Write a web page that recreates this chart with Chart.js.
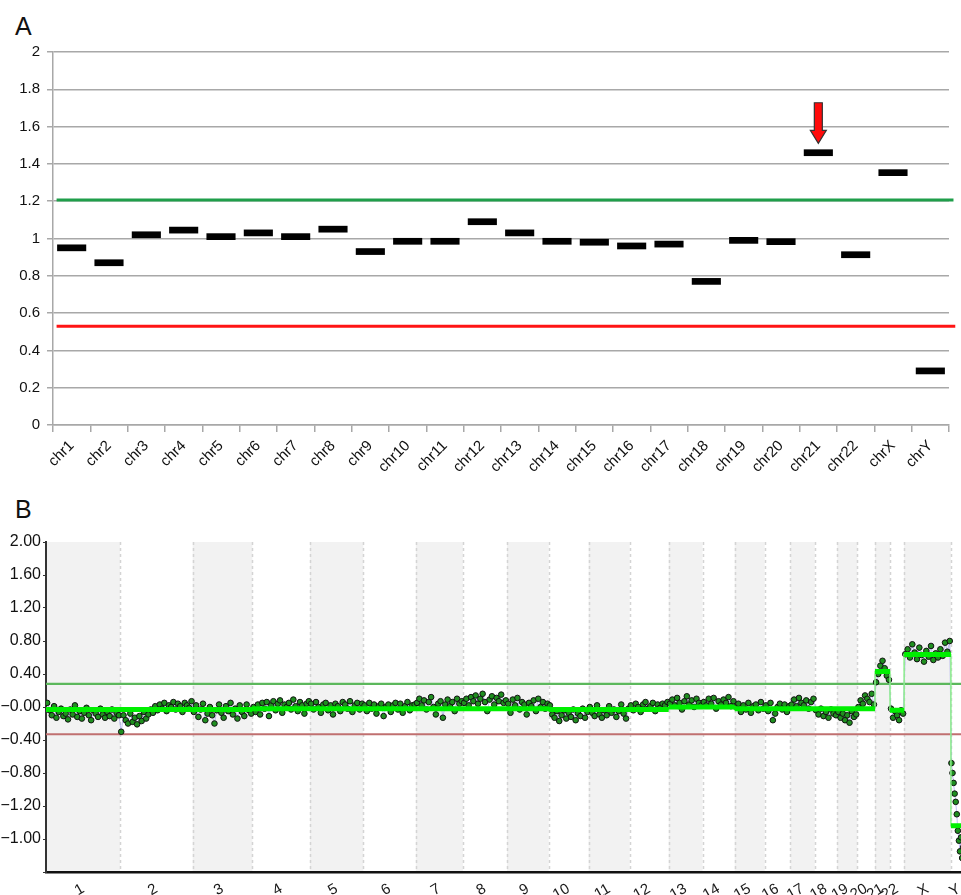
<!DOCTYPE html>
<html>
<head>
<meta charset="utf-8">
<script src="https://cdn.jsdelivr.net/npm/chart.js@4.4.0/dist/chart.umd.min.js"></script>
<style>
  html, body { margin: 0; padding: 0; overflow: hidden; background: #fff; }
  body { position: relative; width: 961px; height: 895px; font-family: "Liberation Sans", Arial, sans-serif; }
  .tag { position: absolute; left: 15px; font-size: 25px; line-height: 1; color: #111; }
  #wrapA { position: absolute; left: 0; top: 0; width: 961px; height: 480px; }
  #wrapB { position: absolute; left: 0; top: 490px; width: 983px; height: 405px; }
</style>
</head>
<body>
<div class="tag" style="top:14px">A</div>
<div class="tag" style="top:497px">B</div>
<div id="wrapA"><canvas id="chartA"></canvas></div>
<div id="wrapB"><canvas id="chartB"></canvas></div>

<script>
// ---- panel A: chromosome ratios ----
const chrNamesA = ['chr1','chr2','chr3','chr4','chr5','chr6','chr7','chr8','chr9','chr10','chr11','chr12',
  'chr13','chr14','chr15','chr16','chr17','chr18','chr19','chr20','chr21','chr22','chrX','chrY'];
const ratiosA = [0.95, 0.87, 1.02, 1.045, 1.01, 1.03, 1.01, 1.05, 0.93, 0.985, 0.985, 1.09,
  1.03, 0.985, 0.98, 0.96, 0.97, 0.77, 0.99, 0.983, 1.46, 0.913, 1.353, 0.29];
const upperCutA = 1.206;
const lowerCutA = 0.53;
const arrowChrA = 'chr21';
const arrowTopA = 1.728;
const arrowTipA = 1.51;

// ---- panel B: genome-wide log ratio ----
const chrLabelsB = ['1','2','3','4','5','6','7','8','9','10','11','12','13','14','15','16','17','18','19','20','21','22','X','Y'];
const chrSizesB = [247, 242, 199, 192, 178, 175, 157, 147, 139, 133, 137, 130, 113, 107, 100, 86, 81, 75, 67, 59, 50, 47, 156, 57];
const yTickLabelsB = ['', '\u22121.00', '\u22121.20', '\u22120.80', '\u22120.40', '\u22120.00', '0.40', '0.80', '1.20', '1.60', '2.00'];
const upperCutB = 0.28;
const lowerCutB = -0.33;
const segmentB = [-0.03, -0.03, -0.03, -0.02, -0.02, -0.02, -0.02, -0.02, -0.02, -0.03, -0.03, -0.03,
  0.0, 0.0, -0.02, -0.02, -0.02, -0.02, -0.02, -0.02, 0.43, -0.04, 0.635, -1.44];
const pointsB = [
  [0.05, -0.04, -0.1, 0.01, -0.13, -0.06, -0.02, -0.11, -0.08, -0.15, -0.03, -0.09, 0.02, -0.12, -0.05, -0.14, -0.07, -0.01, -0.1, -0.16, -0.04, -0.08, -0.12, -0.02, -0.09, -0.13, -0.06, -0.11, -0.03, -0.14, -0.07, -0.1],
  [-0.3, -0.1, -0.16, -0.2, -0.08, -0.18, -0.13, -0.21, -0.11, -0.17, -0.06, -0.14, -0.09, -0.03, -0.07, 0.01, -0.04, 0.03, -0.02, 0.05, -0.05, 0.02, 0.0, 0.06, -0.03, 0.04, 0.01, -0.06, 0.05, 0.02, -0.01, 0.07],
  [-0.06, 0.02, -0.12, -0.03, 0.04, -0.16, -0.08, 0.0, -0.1, -0.2, -0.04, 0.03, -0.07, -0.13, 0.01, -0.05, 0.05, -0.09, -0.02, -0.14, 0.02, -0.06, -0.11, 0.03, -0.04, -0.08],
  [0.0, -0.06, 0.03, -0.09, 0.05, -0.02, 0.06, -0.11, 0.02, 0.07, -0.04, 0.04, 0.08, -0.07, 0.03, 0.0, 0.05, -0.03, 0.09, 0.01, -0.05, 0.06, 0.02, -0.08, 0.04, 0.07],
  [0.04, -0.03, 0.06, 0.0, -0.07, 0.03, 0.05, -0.04, 0.02, -0.09, 0.04, 0.01, -0.05, 0.06, 0.03, -0.02, 0.07, -0.06, 0.02, 0.05, -0.03, 0.04],
  [0.02, -0.05, 0.05, -0.02, 0.03, -0.08, 0.01, 0.04, -0.11, 0.0, 0.03, -0.06, 0.02, 0.05, -0.03, 0.04, -0.07, 0.01, 0.06, -0.04, 0.02, 0.03],
  [0.05, 0.1, 0.02, 0.08, -0.03, 0.06, 0.12, 0.0, -0.09, 0.04, 0.07, -0.13, 0.03, 0.09, 0.01, 0.06, -0.05, 0.1, 0.04, 0.07],
  [0.05, 0.1, 0.02, 0.12, 0.07, 0.14, 0.04, 0.1, 0.16, 0.06, -0.05, 0.09, 0.13, 0.03, 0.11, 0.07, 0.15, 0.05, 0.08],
  [0.04, -0.07, 0.09, 0.02, 0.11, -0.03, 0.06, 0.03, -0.09, 0.05, 0.01, 0.08, -0.05, 0.1, 0.0, 0.06, -0.02, 0.04],
  [0.02, -0.09, -0.13, -0.05, -0.17, -0.1, -0.04, -0.14, -0.07, -0.12, -0.03, -0.16, -0.08, -0.11, -0.02, -0.13, -0.06],
  [0.0, -0.07, -0.11, 0.02, -0.09, -0.13, -0.04, -0.1, 0.01, -0.07, -0.03, -0.12, -0.05, 0.03, -0.08, -0.14, -0.02],
  [0.02, -0.04, 0.04, 0.0, -0.06, 0.03, 0.06, -0.02, 0.01, 0.05, -0.05, 0.03, -0.01, 0.04, 0.02, 0.06],
  [0.04, 0.09, 0.02, 0.11, 0.05, -0.03, 0.07, 0.13, 0.03, 0.08, 0.0, 0.1, 0.05, 0.02],
  [0.06, 0.02, 0.1, 0.04, 0.11, -0.02, 0.07, 0.03, 0.09, 0.05, 0.12, 0.01, 0.07],
  [0.0, 0.04, -0.06, 0.02, -0.03, 0.05, -0.07, 0.01, 0.03, -0.04, 0.06, -0.02],
  [0.02, -0.05, 0.05, -0.16, -0.08, 0.0, 0.04, -0.03, 0.03, -0.06, 0.01],
  [0.03, 0.09, 0.01, 0.11, 0.05, 0.02, 0.08, -0.02, 0.06, 0.1],
  [-0.04, -0.09, -0.02, -0.11, -0.06, -0.13, -0.03, -0.08, -0.1],
  [-0.06, -0.13, -0.08, -0.16, -0.1, -0.19, -0.05, -0.12, -0.09],
  [0.0, 0.08, 0.04, 0.14, 0.1, 0.06, 0.16, 0.03],
  [0.3, 0.4, 0.5, 0.56, 0.47, 0.38, 0.33],
  [-0.02, -0.13, -0.05, -0.1, -0.16, -0.04, -0.08],
  [0.64, 0.7, 0.6, 0.76, 0.66, 0.58, 0.72, 0.63, 0.55, 0.68, 0.61, 0.74, 0.57, 0.65, 0.6, 0.7, 0.62, 0.78, 0.67, 0.8],
  [-0.68, -0.8, -0.92, -1.05, -1.15, -1.3, -1.5, -1.62, -1.75, -1.58, -1.83, -1.7, -1.55, -1.8, -1.66, -1.87]
];

// chromosome start positions along the genome axis
const startsB = [];
let acc = 0;
chrSizesB.forEach(s => { startsB.push(acc); acc += s; });
const totalB = acc;
const centersB = startsB.map((s, i) => s + chrSizesB[i] / 2);

const FONT = '"Liberation Sans", Arial, sans-serif';

const arrowPlugin = {
  id: 'arrowA',
  afterDatasetsDraw(chart) {
    const { ctx, scales } = chart;
    const cx = scales.x.getPixelForValue(chrNamesA.indexOf(arrowChrA));
    const top = scales.y.getPixelForValue(arrowTopA);
    const tip = scales.y.getPixelForValue(arrowTipA);
    const headLen = 13, shaft = 4, head = 8;
    ctx.save();
    ctx.beginPath();
    ctx.moveTo(cx - shaft, top);
    ctx.lineTo(cx + shaft, top);
    ctx.lineTo(cx + shaft, tip - headLen);
    ctx.lineTo(cx + head, tip - headLen);
    ctx.lineTo(cx, tip);
    ctx.lineTo(cx - head, tip - headLen);
    ctx.lineTo(cx - shaft, tip - headLen);
    ctx.closePath();
    ctx.fillStyle = '#ff0a0a';
    ctx.fill();
    ctx.strokeStyle = '#333';
    ctx.lineWidth = 1.2;
    ctx.stroke();
    ctx.restore();
  }
};

new Chart(document.getElementById('chartA'), {
  type: 'bar',
  data: {
    labels: chrNamesA,
    datasets: [
      {
        data: ratiosA.map(v => [v - 0.018, v + 0.018]),
        backgroundColor: '#000', borderWidth: 0, grouped: false,
        barPercentage: 0.78, categoryPercentage: 1, order: 1
      },
      {
        type: 'line', xAxisID: 'x2',
        data: [{ x: 0.004, y: upperCutA }, { x: 1.005, y: upperCutA }],
        borderColor: '#1f9e4a', borderWidth: 3, pointRadius: 0, clip: false, order: 0
      },
      {
        type: 'line', xAxisID: 'x2',
        data: [{ x: 0.004, y: lowerCutA }, { x: 1.007, y: lowerCutA }],
        borderColor: '#ff1414', borderWidth: 3, pointRadius: 0, clip: false, order: 0
      }
    ]
  },
  options: {
    responsive: true, maintainAspectRatio: false, animation: false,
    layout: { padding: { top: 52, right: 12, left: 0, bottom: 0 } },
    plugins: { legend: { display: false }, tooltip: { enabled: false } },
    scales: {
      x: {
        grid: { offset: true, drawOnChartArea: false, color: '#a8a8a8', lineWidth: 1.5, tickLength: 7 },
        border: { color: '#a8a8a8', width: 1.5 },
        ticks: { maxRotation: 45, minRotation: 45, autoSkip: false, color: '#111', font: { family: FONT, size: 15 }, padding: 5 },
        afterFit(scale) { scale.height = 55; scale.paddingLeft = 0; scale.paddingRight = 0; }
      },
      x2: { type: 'linear', display: false, offset: false, min: 0, max: 1 },
      y: {
        min: 0, max: 2,
        ticks: { stepSize: 0.2, color: '#111', font: { family: FONT, size: 15 }, padding: 7,
          callback: v => String(+v.toFixed(1)) },
        grid: { color: '#a8a8a8', lineWidth: 1.5, tickLength: 6 },
        border: { color: '#a8a8a8', width: 1.5 },
        afterFit(scale) { scale.width = 53; scale.paddingTop = 0; scale.paddingBottom = 0; }
      }
    }
  },
  plugins: [arrowPlugin]
});

// ---- panel B ----
const bandPlugin = {
  id: 'bandsB',
  beforeDraw(chart) {
    const { ctx, chartArea, scales } = chart;
    ctx.save();
    chrSizesB.forEach((s, i) => {
      if (i % 2 === 0) {
        const x0 = scales.x.getPixelForValue(startsB[i]);
        const x1 = scales.x.getPixelForValue(startsB[i] + s);
        ctx.fillStyle = '#f2f2f2';
        ctx.fillRect(x0, chartArea.top, x1 - x0, chartArea.bottom - chartArea.top);
      }
    });
    ctx.strokeStyle = '#d4d4d4';
    ctx.lineWidth = 1.5;
    ctx.setLineDash([3, 3]);
    startsB.forEach((s, i) => {
      if (i === 0) return;
      const x = Math.round(scales.x.getPixelForValue(s)) + 0.5;
      ctx.beginPath();
      ctx.moveTo(x, chartArea.top);
      ctx.lineTo(x, chartArea.bottom);
      ctx.stroke();
    });
    ctx.restore();
  }
};

const scatterData = [];
pointsB.forEach((vals, c) => {
  vals.forEach((v, i) => {
    scatterData.push({ x: startsB[c] + (i + 0.5) * chrSizesB[c] / vals.length, y: v });
  });
});

const stepData = [];
const thickData = [];
segmentB.forEach((v, c) => {
  const a = startsB[c], b = startsB[c] + chrSizesB[c];
  stepData.push({ x: a, y: v }, { x: b, y: v });
  thickData.push({ x: a, y: v }, { x: b, y: v }, { x: b, y: null });
});

new Chart(document.getElementById('chartB'), {
  type: 'scatter',
  data: {
    datasets: [
      {
        type: 'line', data: [{ x: 0, y: upperCutB }, { x: totalB, y: upperCutB }],
        borderColor: '#5cb85c', borderWidth: 2.2, pointRadius: 0, order: 5
      },
      {
        type: 'line', data: [{ x: 0, y: lowerCutB }, { x: totalB, y: lowerCutB }],
        borderColor: '#c07070', borderWidth: 2.2, pointRadius: 0, order: 5
      },
      {
        data: scatterData, showLine: true,
        borderColor: 'rgba(120,120,230,0.45)', borderWidth: 1,
        pointRadius: 2.8, pointBackgroundColor: '#1f8f1f', pointBorderColor: '#111', pointBorderWidth: 1,
        order: 3
      },
      {
        type: 'line', data: stepData,
        borderColor: '#8df08d', borderWidth: 1.5, pointRadius: 0, order: 2
      },
      {
        type: 'line', data: thickData, spanGaps: false,
        borderColor: '#00f000', borderWidth: 5, pointRadius: 0, order: 1
      }
    ]
  },
  options: {
    responsive: true, maintainAspectRatio: false, animation: false,
    layout: { padding: { top: 52, right: 15, left: 0, bottom: 0 } },
    plugins: { legend: { display: false }, tooltip: { enabled: false } },
    scales: {
      x: {
        type: 'linear', min: 0, max: totalB,
        afterBuildTicks(scale) { scale.ticks = centersB.map(v => ({ value: v })); },
        ticks: { autoSkip: false, maxRotation: 30, minRotation: 30, padding: 0,
          color: '#1a1a1a', font: { family: FONT, size: 15 },
          callback: (v, i) => chrLabelsB[i] },
        grid: { display: false },
        border: { color: '#111', width: 2.5 },
        afterFit(scale) { scale.height = 23; scale.paddingLeft = 0; scale.paddingRight = 0; }
      },
      y: {
        min: -2, max: 2,
        ticks: { stepSize: 0.4, padding: 2, color: '#111', font: { family: FONT, size: 16 },
          callback: (v, i) => yTickLabelsB[i] },
        grid: { drawOnChartArea: false, color: '#333', tickLength: 3 },
        border: { color: '#333', width: 2 },
        afterFit(scale) { scale.width = 46; scale.paddingTop = 0; scale.paddingBottom = 0; }
      }
    }
  },
  plugins: [bandPlugin]
});
</script>
</body>
</html>
